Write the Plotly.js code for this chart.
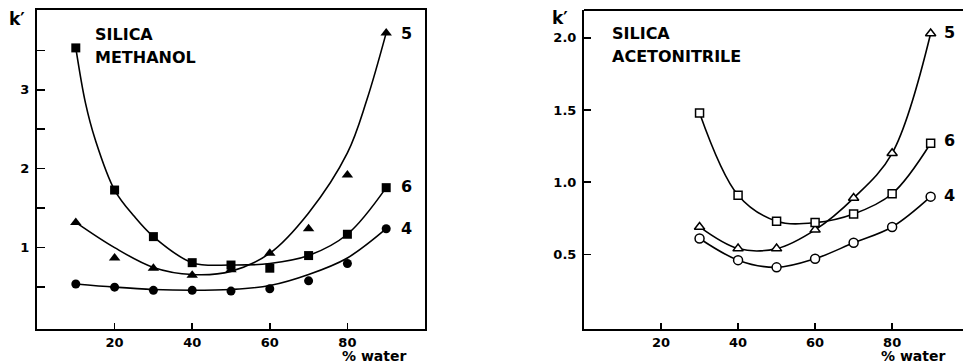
<!DOCTYPE html>
<html>
<head>
<meta charset="utf-8">
<script src="https://cdn.plot.ly/plotly-3.0.1.min.js"></script>
<style>html,body{margin:0;padding:0;background:#fff}#chart{width:963px;height:364px}</style>
</head>
<body>
<div id="chart"></div>
<script>
// ---- Silica / methanol (left panel) ----
const xMeOH = [10, 20, 30, 40, 50, 60, 70, 80, 90];
const meoh4 = [0.54, 0.50, 0.46, 0.46, 0.45, 0.48, 0.58, 0.80, 1.24];
const meoh5 = [1.32, 0.87, 0.74, 0.65, 0.72, 0.93, 1.24, 1.92, 3.72];
const meoh6 = [3.53, 1.73, 1.14, 0.81, 0.78, 0.74, 0.90, 1.17, 1.76];
// fitted curves
const fitX4 = [10, 20, 30, 40, 50, 60, 70, 80, 90];
const fit4 = [0.54, 0.50, 0.47, 0.46, 0.47, 0.52, 0.66, 0.87, 1.24];
const fitX5 = [10, 20, 30, 40, 50, 60, 70, 80, 85, 90];
const fit5 = [1.32, 1.00, 0.75, 0.66, 0.70, 0.93, 1.44, 2.20, 2.87, 3.72];
const fitX6 = [10, 12.5, 15, 20, 25, 30, 40, 50, 60, 70, 80, 90];
const fit6 = [3.53, 2.83, 2.37, 1.73, 1.40, 1.14, 0.81, 0.78, 0.80, 0.90, 1.17, 1.76];

// ---- Silica / acetonitrile (right panel) ----
const xACN = [30, 40, 50, 60, 70, 80, 90];
const acn4 = [0.61, 0.46, 0.41, 0.47, 0.58, 0.69, 0.90];
const acn5 = [0.69, 0.54, 0.54, 0.67, 0.89, 1.20, 2.03];
const acn6 = [1.48, 0.91, 0.73, 0.72, 0.78, 0.92, 1.27];

const xTicks = [20, 40, 60, 80];
const yTicksL = [0.5, 1, 1.5, 2, 2.5, 3, 3.5];
const yTextL = ['', '1', '', '2', '', '3', ''];
const yTicksR = [0.5, 1.0, 1.5, 2.0];
const yTextR = ['0.5', '1.0', '1.5', '2.0'];

const FONT = 'DejaVu Sans, Verdana, sans-serif';
const lineStyle = {color: '#000', width: 1.6, shape: 'spline', smoothing: 1};

function fitTrace(x, y, xa, ya) {
  return {x: x, y: y, xaxis: xa, yaxis: ya, mode: 'lines', line: lineStyle, hoverinfo: 'skip'};
}
function ptTrace(x, y, sym, size, filled, xa, ya, withLine) {
  return {
    x: x, y: y, xaxis: xa, yaxis: ya,
    mode: withLine ? 'lines+markers' : 'markers',
    line: lineStyle,
    marker: {symbol: sym, size: size, color: filled ? '#000' : '#fff',
             line: {color: '#000', width: filled ? 0 : 1.5}}
  };
}

const data = [
  fitTrace(fitX4, fit4, 'x', 'y'),
  fitTrace(fitX5, fit5, 'x', 'y'),
  fitTrace(fitX6, fit6, 'x', 'y'),
  ptTrace(xMeOH, meoh4, 'circle', 9, true, 'x', 'y', false),
  ptTrace(xMeOH, meoh5, 'triangle-up', 10, true, 'x', 'y', false),
  ptTrace(xMeOH, meoh6, 'square', 9, true, 'x', 'y', false),
  ptTrace(xACN, acn4, 'circle', 9, false, 'x2', 'y2', true),
  ptTrace(xACN, acn5, 'triangle-up', 9, false, 'x2', 'y2', true),
  ptTrace(xACN, acn6, 'square', 8, false, 'x2', 'y2', true)
];

const tickFont = {family: FONT, size: 13, color: '#000', weight: 'bold'};
const axBase = {
  showgrid: false, zeroline: false, showline: true, linecolor: '#000', linewidth: 2,
  ticks: 'inside', tickcolor: '#000', tickwidth: 1.5, tickfont: tickFont, tickmode: 'array'
};

const layout = {
  width: 963, height: 364,
  margin: {l: 0, r: 0, t: 0, b: 0},
  paper_bgcolor: '#fff', plot_bgcolor: '#fff',
  showlegend: false,
  font: {family: FONT, color: '#000'},
  xaxis: Object.assign({}, axBase, {domain: [37/963, 425/963], range: [0, 100], mirror: true,
    tickvals: xTicks, ticktext: xTicks.map(String), ticklen: 6, anchor: 'y', ticklabelstandoff: 0}),
  yaxis: Object.assign({}, axBase, {domain: [1 - 329/364, 1 - 10/364], range: [-0.03, 4.01], mirror: true,
    tickvals: yTicksL, ticktext: yTextL, ticklen: 8, anchor: 'x', ticklabelstandoff: 3}),
  xaxis2: Object.assign({}, axBase, {domain: [584/963, 1], range: [0, 98.4], mirror: false,
    tickvals: xTicks, ticktext: xTicks.map(String), ticklen: 6, anchor: 'y2', ticklabelstandoff: 0}),
  yaxis2: Object.assign({}, axBase, {domain: [1 - 329/364, 1 - 10/364], range: [-0.017, 2.193], mirror: false,
    tickvals: yTicksR, ticktext: yTextR, ticklen: 7, anchor: 'x2', ticklabelstandoff: 3}),
  shapes: [
    {type: 'line', xref: 'x2 domain', yref: 'y2 domain', x0: 0, x1: 1, y0: 1, y1: 1,
     line: {color: '#000', width: 2}}
  ],
  annotations: []
};

function ann(x, y, text, size, xanchor, yanchor) {
  return {xref: 'paper', yref: 'paper', x: x / 963, y: 1 - y / 364, text: text,
    showarrow: false, xanchor: xanchor || 'left', yanchor: yanchor || 'middle', borderpad: 0,
    font: {family: FONT, size: size, color: '#000', weight: 'bold'}};
}
layout.annotations.push(
  ann(8, 19, 'k′', 17),
  ann(94, 34, 'SILICA', 16),
  ann(94, 58, 'METHANOL', 16),
  ann(400, 33, '5', 16),
  ann(400, 186, '6', 16),
  ann(400, 228, '4', 16),
  ann(341, 365, '% water', 14, 'left', 'bottom'),
  ann(551, 18, 'k′', 17),
  ann(611, 33, 'SILICA', 16),
  ann(611, 56, 'ACETONITRILE', 16),
  ann(943, 32, '5', 16),
  ann(943, 141, '6', 16),
  ann(943, 195, '4', 16),
  ann(880, 365, '% water', 14, 'left', 'bottom')
);

Plotly.newPlot('chart', data, layout, {staticPlot: true, displayModeBar: false});
</script>
</body>
</html>
